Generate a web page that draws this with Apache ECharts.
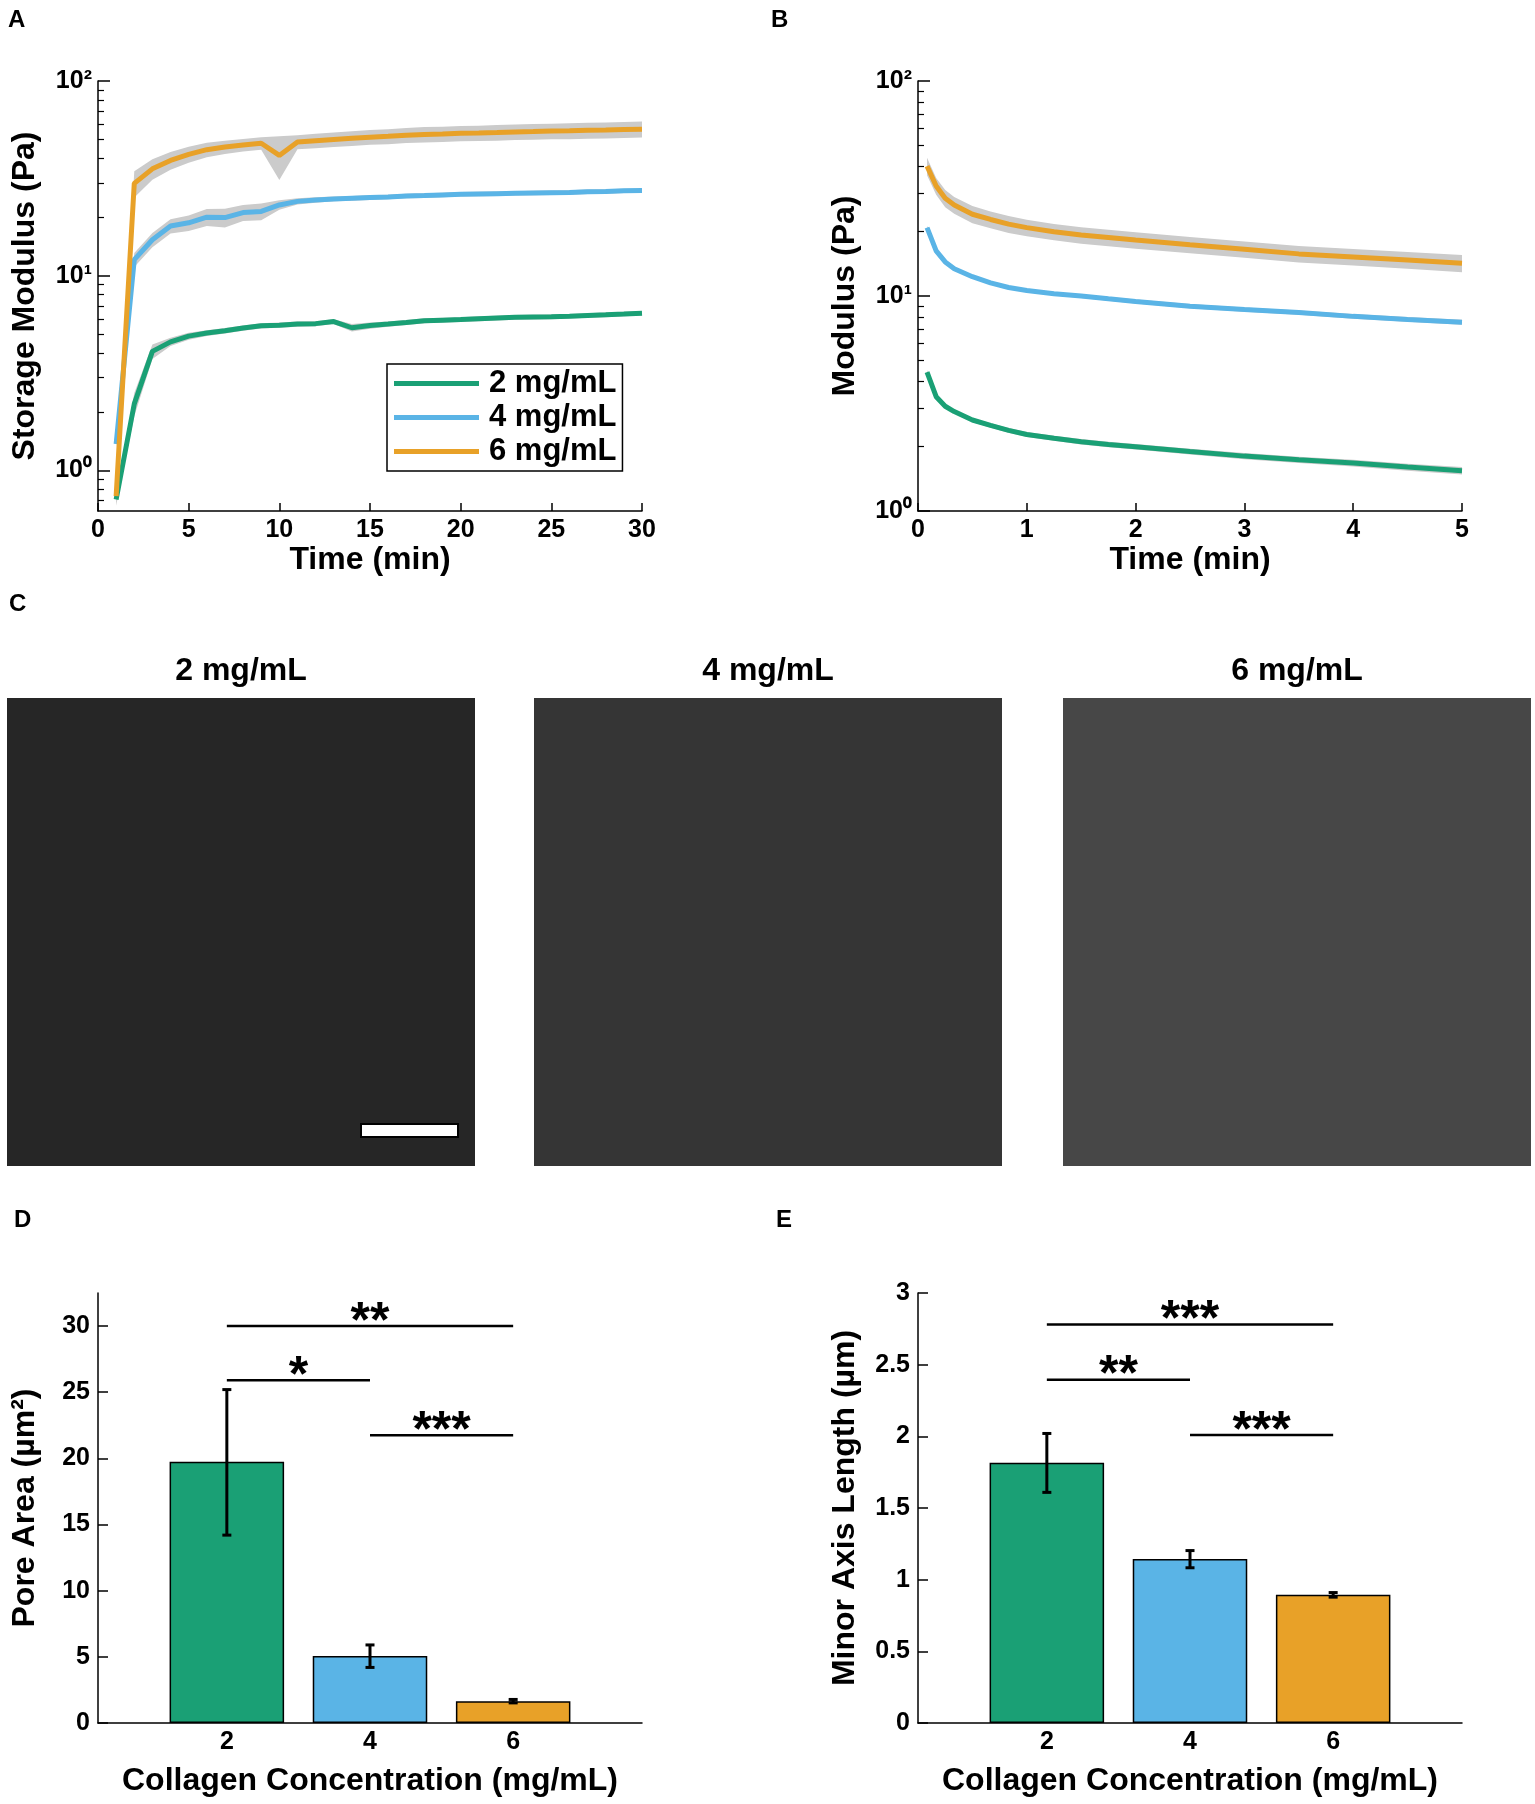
<!DOCTYPE html>
<html>
<head>
<meta charset="utf-8">
<script src="https://cdn.jsdelivr.net/npm/echarts@6.0.0/dist/echarts.min.js"></script>
<style>
  html, body { margin: 0; padding: 0; background: #fff; }
  #chart { width: 1535px; height: 1804px; }
</style>
</head>
<body>
<div id="chart"></div>
<script>
// ---- data ----
const seriesNames = ['2 mg/mL', '4 mg/mL', '6 mg/mL']
const colors = ['#1aa075', '#5ab4e6', '#e8a128']

// A: gelation, storage modulus (Pa) vs time (min)
const timeA = [1, 2, 3, 4, 5, 6, 7, 8, 9, 10, 11, 12, 13, 14, 15, 16, 17, 18, 19, 20, 21, 22, 23, 24, 25, 26, 27, 28, 29, 30]
const gA2 = [0.71, 2.2, 4.09, 4.58, 4.90, 5.08, 5.22, 5.39, 5.54, 5.58, 5.65, 5.68, 5.82, 5.41, 5.55, 5.65, 5.76, 5.88, 5.92, 5.96, 6.02, 6.07, 6.12, 6.14, 6.16, 6.2, 6.25, 6.3, 6.36, 6.43]
const sdA2 = [0.05, 0.3, 0.35, 0.22, 0.2, 0.18, 0.17, 0.17, 0.17, 0.17, 0.17, 0.17, 0.17, 0.24, 0.2, 0.18, 0.17, 0.17, 0.17, 0.17, 0.17, 0.17, 0.17, 0.17, 0.17, 0.17, 0.17, 0.17, 0.17, 0.17]
const gA4 = [1.37, 12.1, 15.3, 18.0, 18.7, 20.0, 19.9, 21.1, 21.4, 23.1, 24.1, 24.5, 24.8, 25.0, 25.2, 25.4, 25.7, 25.8, 26.0, 26.2, 26.3, 26.4, 26.5, 26.6, 26.7, 26.8, 27.0, 27.1, 27.3, 27.4]
const sdA4 = [0.05, 1.0, 1.3, 1.5, 1.7, 2.0, 2.2, 2.0, 2.1, 1.3, 0.9, 0.8, 0.7, 0.7, 0.7, 0.7, 0.7, 0.7, 0.7, 0.7, 0.7, 0.7, 0.7, 0.7, 0.7, 0.7, 0.7, 0.7, 0.7, 0.7]
const gA6 = [0.74, 29.8, 35.4, 39.1, 42.0, 44.4, 45.8, 46.9, 47.9, 41.5, 48.6, 49.4, 50.1, 50.8, 51.5, 52.0, 52.7, 53.2, 53.4, 53.9, 54.1, 54.4, 54.8, 55.0, 55.3, 55.5, 55.8, 56.0, 56.3, 56.6]
const sdA6 = [0.03, 4.6, 4.3, 4.1, 4.0, 3.8, 3.6, 3.5, 3.5, 10.5, 4.0, 4.2, 4.3, 4.4, 4.5, 4.6, 4.7, 4.8, 4.8, 4.9, 4.9, 5.0, 5.0, 5.1, 5.1, 5.2, 5.2, 5.3, 5.3, 5.3]

// B: relaxation, modulus (Pa) vs time (min)
const timeB = [0.083, 0.167, 0.25, 0.333, 0.5, 0.667, 0.833, 1, 1.25, 1.5, 1.75, 2, 2.5, 3, 3.5, 4, 4.5, 5]
const gB2 = [4.43, 3.40, 3.07, 2.90, 2.65, 2.50, 2.37, 2.27, 2.18, 2.10, 2.04, 1.99, 1.89, 1.80, 1.73, 1.67, 1.60, 1.54]
const sdB2 = [0.1, 0.07, 0.06, 0.06, 0.06, 0.06, 0.06, 0.06, 0.06, 0.06, 0.06, 0.06, 0.06, 0.06, 0.06, 0.06, 0.06, 0.06]
const gB4 = [20.8, 16.2, 14.4, 13.4, 12.3, 11.5, 10.95, 10.6, 10.25, 10.0, 9.7, 9.43, 8.97, 8.65, 8.37, 8.04, 7.78, 7.55]
const sdB4 = [0.4, 0.25, 0.2, 0.2, 0.2, 0.2, 0.2, 0.2, 0.2, 0.2, 0.2, 0.2, 0.2, 0.2, 0.2, 0.2, 0.2, 0.2]
const gB6 = [40.2, 32.5, 28.5, 26.5, 24.0, 22.7, 21.6, 20.8, 19.9, 19.2, 18.7, 18.2, 17.3, 16.5, 15.7, 15.2, 14.7, 14.2]
const sdB6 = [3.8, 2.9, 2.6, 2.4, 2.2, 2.05, 1.95, 1.85, 1.75, 1.7, 1.65, 1.6, 1.5, 1.45, 1.4, 1.35, 1.3, 1.3]

// log axis ticks
const logMajor = [1, 10, 100]
const logMinorA = [0.7, 0.8, 0.9, 2, 3, 4, 5, 6, 7, 8, 9, 20, 30, 40, 50, 60, 70, 80, 90]
const logMinorB = [2, 3, 4, 5, 6, 7, 8, 9, 20, 30, 40, 50, 60, 70, 80, 90]
const supLabel = { 1: '10\u2070', 10: '10\u00b9', 100: '10\u00b2' }

// C: confocal image panels
const imageTitles = ['2 mg/mL', '4 mg/mL', '6 mg/mL']

// D / E: pore area and minor axis length
const conc = [2, 4, 6]
const poreMean = [19.75, 5.07, 1.65]
const poreLo = [14.2, 4.2, 1.52]
const poreHi = [25.2, 5.9, 1.78]
const minorMean = [1.816, 1.145, 0.894]
const minorLo = [1.609, 1.083, 0.878]
const minorHi = [2.02, 1.203, 0.91]
const sigPairs = [[2, 6], [2, 4], [4, 6]]
const sigYD = [30, 25.9, 21.75]
const sigTextD = ['**', '*', '***']
const sigYE = [2.78, 2.395, 2.01]
const sigTextE = ['***', '**', '***']
const ticksD = [0, 5, 10, 15, 20, 25, 30]

// ---- styling ----
const FONT = 'Liberation Sans, Arial, Helvetica, sans-serif'
const black = '#000'
const band = '#cbcbcb'
const tickFont = { color: black, fontSize: 25, fontWeight: 'bold', fontFamily: FONT }
const nameFont = { color: black, fontSize: 32, fontWeight: 'bold', fontFamily: FONT }
const grids = [
  { left: 98, top: 81, width: 544, height: 430 },
  { left: 918, top: 81, width: 544, height: 430 },
  { left: 98, top: 1293, width: 544, height: 430 },
  { left: 918, top: 1293, width: 544, height: 430 }
]

function xAxisCfg (grid, min, max, interval, name, nameGap, custom) {
  const ax = {
    type: 'value', gridIndex: grid, min, max, interval,
    name, nameLocation: 'middle', nameGap, nameTextStyle: nameFont,
    axisLine: { show: true, lineStyle: { color: black, width: 1.5 } },
    axisTick: { show: true, inside: true, length: 8, lineStyle: { color: black, width: 1.5 } },
    axisLabel: { ...tickFont, margin: 7 },
    splitLine: { show: false }
  }
  if (custom) {
    ax.axisTick.customValues = custom
    ax.axisLabel.customValues = custom
  }
  return ax
}

function logAxes (grid, min, minor, name) {
  return [
    {
      type: 'log', gridIndex: grid, min, max: 100, position: 'left',
      axisLine: { show: true, lineStyle: { color: black, width: 1.5 } },
      axisTick: { show: true, inside: true, length: 6, customValues: minor, lineStyle: { color: black, width: 1.2 } },
      axisLabel: { show: false },
      splitLine: { show: false }
    },
    {
      type: 'log', gridIndex: grid, min, max: 100, position: 'left',
      name, nameLocation: 'middle', nameGap: 57, nameRotate: 90, nameTextStyle: nameFont,
      axisLine: { show: false },
      axisTick: { show: true, inside: true, length: 12, customValues: logMajor, lineStyle: { color: black, width: 1.5 } },
      axisLabel: { ...tickFont, margin: 6, customValues: logMajor, formatter: v => supLabel[Math.round(v)] || '' },
      splitLine: { show: false }
    }
  ]
}

function bandSeries (xi, yi, t, mean, sd) {
  return {
    type: 'custom', xAxisIndex: xi, yAxisIndex: yi, silent: true, z: 1,
    data: [[t[0], mean[0]]],
    renderItem (params, api) {
      const pts = []
      for (let i = 0; i < t.length; i++) pts.push(api.coord([t[i], mean[i] + sd[i]]))
      for (let i = t.length - 1; i >= 0; i--) pts.push(api.coord([t[i], Math.max(mean[i] - sd[i], 0.01)]))
      return { type: 'polygon', shape: { points: pts }, style: { fill: band } }
    }
  }
}

function lineSeries (xi, yi, name, t, mean, color) {
  return {
    type: 'line', name, xAxisIndex: xi, yAxisIndex: yi, z: 3,
    data: t.map((x, i) => [x, mean[i]]),
    showSymbol: false, symbol: 'none', color,
    lineStyle: { color, width: 5 }
  }
}

function barSeries (xi, yi, mean) {
  return {
    type: 'bar', xAxisIndex: xi, yAxisIndex: yi, barWidth: '80%', z: 2,
    data: conc.map((c, i) => ({ value: [c, mean[i]], itemStyle: { color: colors[i] } })),
    itemStyle: { borderColor: black, borderWidth: 1.5 }
  }
}

function errSeries (xi, yi, lo, hi) {
  return {
    type: 'custom', xAxisIndex: xi, yAxisIndex: yi, z: 4, silent: true,
    data: conc.map((c, i) => [c, lo[i], hi[i]]),
    renderItem (params, api) {
      const top = api.coord([api.value(0), api.value(2)])
      const bot = api.coord([api.value(0), api.value(1)])
      const st = { stroke: black, lineWidth: 3 }
      const cap = 4.5
      return {
        type: 'group',
        children: [
          { type: 'line', shape: { x1: top[0], y1: top[1], x2: bot[0], y2: bot[1] }, style: st },
          { type: 'line', shape: { x1: top[0] - cap, y1: top[1], x2: top[0] + cap, y2: top[1] }, style: st },
          { type: 'line', shape: { x1: bot[0] - cap, y1: bot[1], x2: bot[0] + cap, y2: bot[1] }, style: st }
        ]
      }
    }
  }
}

function sigSeries (xi, yi, ys, texts) {
  return {
    type: 'custom', xAxisIndex: xi, yAxisIndex: yi, z: 4, silent: true,
    data: sigPairs.map((p, i) => [p[0], p[1], ys[i]]),
    encode: { x: [0, 1], y: 2 },
    renderItem (params, api) {
      const a = api.coord([api.value(0), api.value(2)])
      const b = api.coord([api.value(1), api.value(2)])
      return {
        type: 'group',
        children: [
          { type: 'line', shape: { x1: a[0], y1: a[1], x2: b[0], y2: b[1] }, style: { stroke: black, lineWidth: 2.5 } },
          {
            type: 'text', x: (a[0] + b[0]) / 2, y: a[1] - 3,
            style: { text: texts[params.dataIndex], fill: black, font: 'bold 50px ' + FONT, align: 'center', verticalAlign: 'middle' }
          }
        ]
      }
    }
  }
}

// ---- graphic: panel letters, image panels ----
const graphics = []
const letters = [['A', 8, 8], ['B', 771, 8], ['C', 9, 592], ['D', 14, 1208], ['E', 776, 1208]]
letters.forEach(([t, x, y]) => graphics.push({
  type: 'text', left: x, top: y, style: { text: t, fill: black, font: 'bold 24px ' + FONT }
}))
const imgX = [7, 534, 1063]
const imgFill = ['#262626', '#353535', '#474747']
imgX.forEach((x, i) => {
  graphics.push({ type: 'rect', shape: { x, y: 698, width: 468, height: 468 }, style: { fill: imgFill[i] } })
  graphics.push({
    type: 'text', x: x + 234, y: 671,
    style: { text: imageTitles[i], fill: black, font: 'bold 32px ' + FONT, align: 'center', verticalAlign: 'middle' }
  })
})
graphics.push({ type: 'rect', shape: { x: 361, y: 1124, width: 97, height: 13 }, style: { fill: '#fff', stroke: black, lineWidth: 2 } })

const chart = echarts.init(document.getElementById('chart'), null, { renderer: 'canvas' })
chart.setOption({
  animation: false,
  backgroundColor: '#fff',
  textStyle: { fontFamily: FONT },
  grid: grids,
  legend: {
    data: seriesNames, left: 387, top: 364, orient: 'vertical',
    icon: 'rect', itemWidth: 85, itemHeight: 5, itemGap: 3,
    padding: [4, 6, 4, 7], borderColor: black, borderWidth: 1.5, borderRadius: 0,
    selectedMode: false,
    textStyle: { color: black, fontSize: 31, fontWeight: 'bold', fontFamily: FONT, padding: [0, 0, 0, 5] }
  },
  xAxis: [
    xAxisCfg(0, 0, 30, 5, 'Time (min)', 32),
    xAxisCfg(1, 0, 5, 1, 'Time (min)', 32),
    xAxisCfg(2, 0.2, 7.8, null, 'Collagen Concentration (mg/mL)', 42, conc),
    xAxisCfg(3, 0.2, 7.8, null, 'Collagen Concentration (mg/mL)', 42, conc)
  ],
  yAxis: [
    ...logAxes(0, 0.62, logMinorA, 'Storage Modulus (Pa)'),
    ...logAxes(1, 1, logMinorB, 'Modulus (Pa)'),
    {
      type: 'value', gridIndex: 2, min: 0, max: 32.5, position: 'left',
      name: 'Pore Area (\u00b5m\u00b2)', nameLocation: 'middle', nameGap: 57, nameRotate: 90, nameTextStyle: nameFont,
      axisLine: { show: true, lineStyle: { color: black, width: 1.5 } },
      axisTick: { show: true, inside: true, length: 10, customValues: ticksD, lineStyle: { color: black, width: 1.5 } },
      axisLabel: { ...tickFont, margin: 8, customValues: ticksD },
      splitLine: { show: false }
    },
    {
      type: 'value', gridIndex: 3, min: 0, max: 3, interval: 0.5, position: 'left',
      name: 'Minor Axis Length (\u00b5m)', nameLocation: 'middle', nameGap: 57, nameRotate: 90, nameTextStyle: nameFont,
      axisLine: { show: true, lineStyle: { color: black, width: 1.5 } },
      axisTick: { show: true, inside: true, length: 10, lineStyle: { color: black, width: 1.5 } },
      axisLabel: { ...tickFont, margin: 8 },
      splitLine: { show: false }
    }
  ],
  series: [
    bandSeries(0, 1, timeA, gA2, sdA2),
    bandSeries(0, 1, timeA, gA4, sdA4),
    bandSeries(0, 1, timeA, gA6, sdA6),
    lineSeries(0, 1, seriesNames[0], timeA, gA2, colors[0]),
    lineSeries(0, 1, seriesNames[1], timeA, gA4, colors[1]),
    lineSeries(0, 1, seriesNames[2], timeA, gA6, colors[2]),
    bandSeries(1, 3, timeB, gB2, sdB2),
    bandSeries(1, 3, timeB, gB4, sdB4),
    bandSeries(1, 3, timeB, gB6, sdB6),
    lineSeries(1, 3, seriesNames[0], timeB, gB2, colors[0]),
    lineSeries(1, 3, seriesNames[1], timeB, gB4, colors[1]),
    lineSeries(1, 3, seriesNames[2], timeB, gB6, colors[2]),
    barSeries(2, 4, poreMean),
    errSeries(2, 4, poreLo, poreHi),
    sigSeries(2, 4, sigYD, sigTextD),
    barSeries(3, 5, minorMean),
    errSeries(3, 5, minorLo, minorHi),
    sigSeries(3, 5, sigYE, sigTextE)
  ],
  graphic: graphics
})
</script>
</body>
</html>
